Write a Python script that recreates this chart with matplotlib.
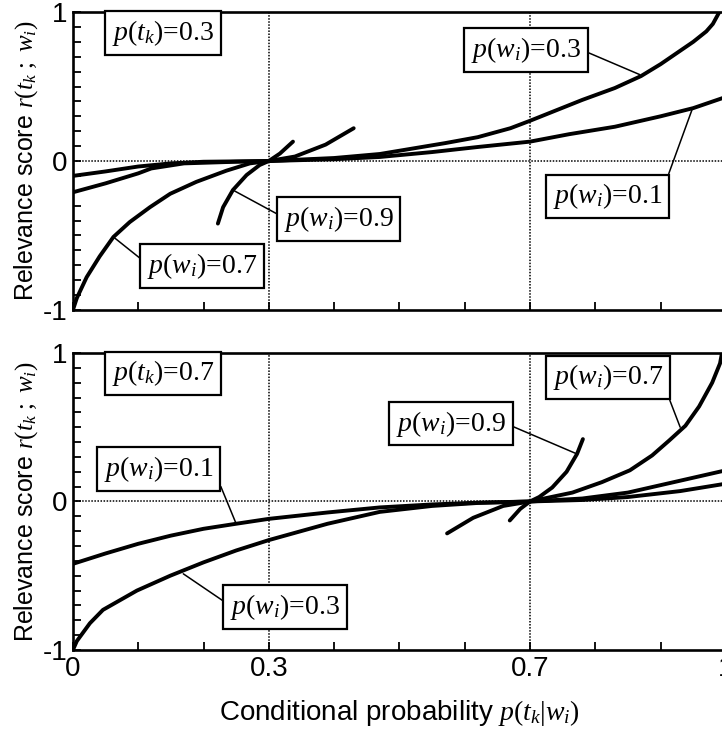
import matplotlib
matplotlib.use("Agg")
import matplotlib.pyplot as plt
from matplotlib.ticker import FixedLocator, FixedFormatter, MultipleLocator

plt.rcParams['font.family'] = ['Liberation Sans', 'DejaVu Sans']
plt.rcParams['mathtext.fontset'] = 'custom'
plt.rcParams['mathtext.rm'] = 'Liberation Serif'
plt.rcParams['mathtext.it'] = 'Liberation Serif:italic'
plt.rcParams['mathtext.bf'] = 'Liberation Serif:bold'
plt.rcParams['axes.unicode_minus'] = False

# --- valores: p(t_k)=0.3 (panel superior) ---
sup_x_w01 = [0, 0.05, 0.10, 0.15, 0.20, 0.30, 0.40, 0.47, 0.55, 0.62, 0.70, 0.76, 0.83, 0.90, 0.95, 1.0]
sup_y_w01 = [-0.10, -0.07, -0.037, -0.016, -0.005, 0, 0.012, 0.027, 0.06, 0.094, 0.13, 0.18, 0.23, 0.30, 0.355, 0.43]

sup_x_w03 = [0, 0.05, 0.10, 0.12, 0.17, 0.25, 0.30, 0.40, 0.47, 0.57, 0.62, 0.67, 0.70, 0.78, 0.83, 0.87, 0.90, 0.93, 0.95, 0.97, 0.98, 0.99]
sup_y_w03 = [-0.21, -0.15, -0.083, -0.05, -0.016, -0.005, 0, 0.02, 0.047, 0.12, 0.16, 0.22, 0.27, 0.41, 0.49, 0.57, 0.65, 0.74, 0.80, 0.87, 0.92, 1.0]

sup_x_w07 = [0, 0.006, 0.021, 0.041, 0.062, 0.087, 0.118, 0.149, 0.189, 0.235, 0.271, 0.30, 0.34, 0.387, 0.43]
sup_y_w07 = [-1, -0.92, -0.78, -0.64, -0.51, -0.41, -0.31, -0.22, -0.14, -0.065, -0.016, 0, 0.03, 0.11, 0.22]

sup_x_w09 = [0.222, 0.23, 0.245, 0.266, 0.286, 0.30, 0.317, 0.337]
sup_y_w09 = [-0.42, -0.31, -0.195, -0.094, -0.027, 0, 0.05, 0.13]

# --- p(t_k)=0.7 (panel inferior) ---
inf_x_w01 = [0, 0.05, 0.10, 0.15, 0.20, 0.25, 0.30, 0.39, 0.47, 0.55, 0.62, 0.70, 0.78, 0.85, 0.93, 1.0]
inf_y_w01 = [-0.42, -0.35, -0.285, -0.23, -0.184, -0.15, -0.117, -0.074, -0.04, -0.02, -0.008, 0, 0.01, 0.03, 0.07, 0.12]

inf_x_w03 = [0, 0.006, 0.026, 0.046, 0.098, 0.149, 0.20, 0.25, 0.30, 0.39, 0.47, 0.55, 0.62, 0.70, 0.78, 0.85, 0.93, 1.0]
inf_y_w03 = [-1, -0.94, -0.82, -0.73, -0.60, -0.50, -0.41, -0.33, -0.26, -0.15, -0.07, -0.03, -0.01, 0, 0.02, 0.06, 0.14, 0.21]

inf_x_w07 = [0.573, 0.613, 0.659, 0.70, 0.765, 0.81, 0.853, 0.887, 0.913, 0.938, 0.959, 0.979, 0.991, 0.994]
inf_y_w07 = [-0.215, -0.11, -0.03, 0, 0.06, 0.13, 0.21, 0.31, 0.41, 0.51, 0.64, 0.80, 0.93, 1.0]

inf_x_w09 = [0.669, 0.685, 0.70, 0.714, 0.734, 0.756, 0.772, 0.781]
inf_y_w09 = [-0.128, -0.05, 0, 0.03, 0.094, 0.20, 0.32, 0.42]

xticks_lab = ['0', '0.3', '0.7', '1']
xticks_pos = [0, 0.3, 0.7, 1.0]
yticks_lab = ['-1', '0', '1']
yticks_pos = [-1, 0, 1]

CAJA = dict(boxstyle='square,pad=0.25', fc='white', ec='black', lw=1.6)


def preparar_eje(ax, con_etiquetas_x):
    ax.set_xlim(0, 1)
    ax.set_ylim(-1, 1)
    for lado in ax.spines.values():
        lado.set_linewidth(1.9)
    ax.axvline(0.3, color='black', lw=1.1, ls=(0, (1, 1)), zorder=1)
    ax.axvline(0.7, color='black', lw=1.1, ls=(0, (1, 1)), zorder=1)
    ax.axhline(0, color='black', lw=1.1, ls=(0, (1, 1)), zorder=1)
    ax.xaxis.set_major_locator(FixedLocator(xticks_pos))
    ax.xaxis.set_minor_locator(MultipleLocator(0.1))
    ax.yaxis.set_major_locator(FixedLocator(yticks_pos))
    ax.yaxis.set_major_formatter(FixedFormatter(yticks_lab))
    ax.yaxis.set_minor_locator(MultipleLocator(0.1))
    if con_etiquetas_x:
        ax.xaxis.set_major_formatter(FixedFormatter(xticks_lab))
    else:
        ax.set_xticklabels([])
    ax.tick_params(which='both', direction='in', length=6, width=1.3,
                   top=False, right=False, labelsize=20, pad=4)
    ax.set_ylabel(r'Relevance score $r(t_k\ ;\ w_i)$', fontsize=18, labelpad=2)


def etiqueta(ax, texto, xy, xytext, relpos):
    ax.annotate(texto, xy=xy, xytext=xytext, textcoords='data',
                ha='center', va='center', fontsize=20, family='Liberation Serif',
                bbox=CAJA, zorder=5,
                arrowprops=dict(arrowstyle='-', lw=1.1, color='black',
                                relpos=relpos, shrinkA=0, shrinkB=0))


fig = plt.figure(figsize=(7.22, 7.29), dpi=100)
ax1 = fig.add_axes([0.101, 0.5748, 0.9044, 0.4087])
ax2 = fig.add_axes([0.101, 0.1084, 0.9044, 0.4074])

preparar_eje(ax1, False)
preparar_eje(ax2, True)

estilo = dict(color='black', lw=2.8, solid_capstyle='round', solid_joinstyle='round', zorder=3)
ax1.plot(sup_x_w01, sup_y_w01, **estilo)
ax1.plot(sup_x_w03, sup_y_w03, **estilo)
ax1.plot(sup_x_w07, sup_y_w07, **estilo)
ax1.plot(sup_x_w09, sup_y_w09, **estilo)

ax2.plot(inf_x_w01, inf_y_w01, **estilo)
ax2.plot(inf_x_w03, inf_y_w03, **estilo)
ax2.plot(inf_x_w07, inf_y_w07, **estilo)
ax2.plot(inf_x_w09, inf_y_w09, **estilo)

ax1.text(0.138, 0.862, r'$p(t_k)$=0.3', ha='center', va='center', fontsize=20,
         family='Liberation Serif', bbox=CAJA, zorder=5)
etiqueta(ax1, r'$p(w_i)$=0.7', (0.062, -0.51), (0.198, -0.705), (0, 0.57))
etiqueta(ax1, r'$p(w_i)$=0.9', (0.245, -0.195), (0.407, -0.39), (0, 0.55))
etiqueta(ax1, r'$p(w_i)$=0.3', (0.868, 0.58), (0.694, 0.748), (1, 0.5))
etiqueta(ax1, r'$p(w_i)$=0.1', (0.949, 0.355), (0.819, -0.238), (1, 0.67))

ax2.text(0.138, 0.862, r'$p(t_k)$=0.7', ha='center', va='center', fontsize=20,
         family='Liberation Serif', bbox=CAJA, zorder=5)
etiqueta(ax2, r'$p(w_i)$=0.1', (0.25, -0.15), (0.131, 0.219), (1, 0.54))
etiqueta(ax2, r'$p(w_i)$=0.3', (0.169, -0.487), (0.325, -0.71), (0, 0.54))
etiqueta(ax2, r'$p(w_i)$=0.9', (0.772, 0.32), (0.579, 0.525), (1, 0.5))
etiqueta(ax2, r'$p(w_i)$=0.7', (0.93, 0.50), (0.819, 0.835), (1, 0.35))

ax2.set_xlabel(r'Conditional probability $p(t_k|w_i)$', fontsize=20, labelpad=12)

fig.savefig('out.png', dpi=100)
